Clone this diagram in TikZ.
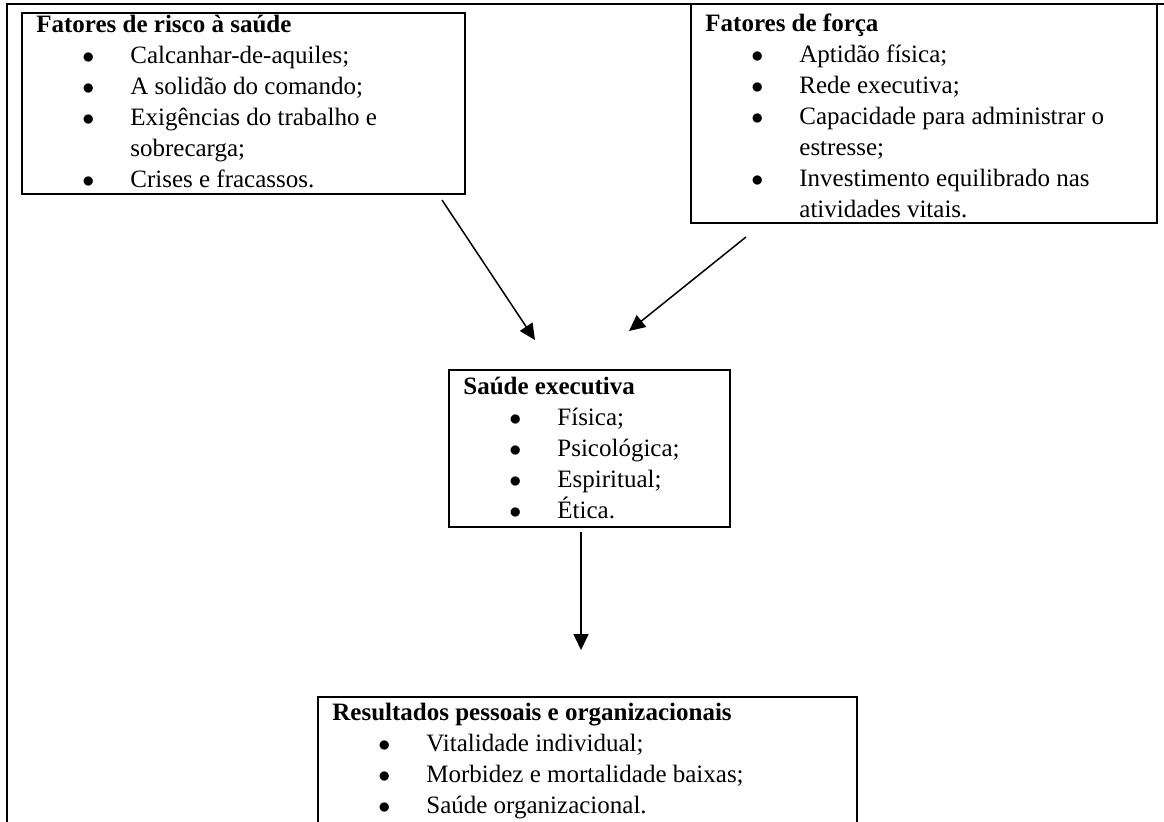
\documentclass[tikz,border=0pt]{standalone}
\usepackage{fontspec}
\setmainfont{Liberation Serif}
\usetikzlibrary{arrows.meta,calc}
\newcommand{\bitem}[1]{\hspace*{23pt}\makebox[24pt][l]{$\bullet$}#1}
\newcommand{\bcont}[1]{\hspace*{47pt}#1}
\begin{document}
\begin{tikzpicture}[x=0.5pt,y=-0.5pt,
  framebox/.style={draw,line width=1pt,anchor=north west,inner sep=0pt,outer sep=0pt},
  txt/.style={anchor=north west,inner sep=0pt,align=left,font=\fontsize{12.5}{15.5}\selectfont},
  arr/.style={line width=0.75pt,-{Triangle[length=8pt,width=7.5pt]}}]
\clip (0,0) rectangle (1164,821);
\useasboundingbox (0,0) rectangle (1164,821);
% outer frame
\draw[line width=1pt] (7,830) -- (7,4) -- (1170,4);
% boxes
\node[framebox,minimum width=221.5pt,minimum height=90.5pt] (risk) at (22,13) {};
\node[framebox,minimum width=233pt,minimum height=109.5pt] (forca) at (691,4) {};
\node[framebox,minimum width=140.5pt,minimum height=78.5pt] (saude) at (449,370) {};
\node[framebox,minimum width=269.5pt,minimum height=75pt] (result) at (318,697) {};
% texts
\node[txt] (risktxt) at ($(risk.north west)+(14,-3)$) {\strut\textbf{Fatores de risco à saúde}\\
\bitem{Calcanhar-de-aquiles;}\\
\bitem{A solidão do comando;}\\
\bitem{Exigências do trabalho e}\\
\bcont{sobrecarga;}\\
\bitem{Crises e fracassos.}};
\node[txt] (forcatxt) at ($(forca.north west)+(14,5)$) {\strut\textbf{Fatores de força}\\
\bitem{Aptidão física;}\\
\bitem{Rede executiva;}\\
\bitem{Capacidade para administrar o}\\
\bcont{estresse;}\\
\bitem{Investimento equilibrado nas}\\
\bcont{atividades vitais.}};
\node[txt] (saudetxt) at ($(saude.north west)+(14,2)$) {\strut\textbf{Saúde executiva}\\
\bitem{Física;}\\
\bitem{Psicológica;}\\
\bitem{Espiritual;}\\
\bitem{Ética.}};
\node[txt] (resulttxt) at ($(result.north west)+(14,1)$) {\strut\textbf{Resultados pessoais e organizacionais}\\
\bitem{Vitalidade individual;}\\
\bitem{Morbidez e mortalidade baixas;}\\
\bitem{Saúde organizacional.}};
% arrows
\coordinate (a1s) at (442,200);
\coordinate (a1e) at (535,340);
\coordinate (a2s) at (746,237);
\coordinate (a2e) at (629,331);
\coordinate (a3s) at (581,532);
\coordinate (a3e) at (581,650);
\draw[arr] (a1s) -- (a1e);
\draw[arr] (a2s) -- (a2e);
\draw[arr] (a3s) -- (a3e);
\end{tikzpicture}
\end{document}
